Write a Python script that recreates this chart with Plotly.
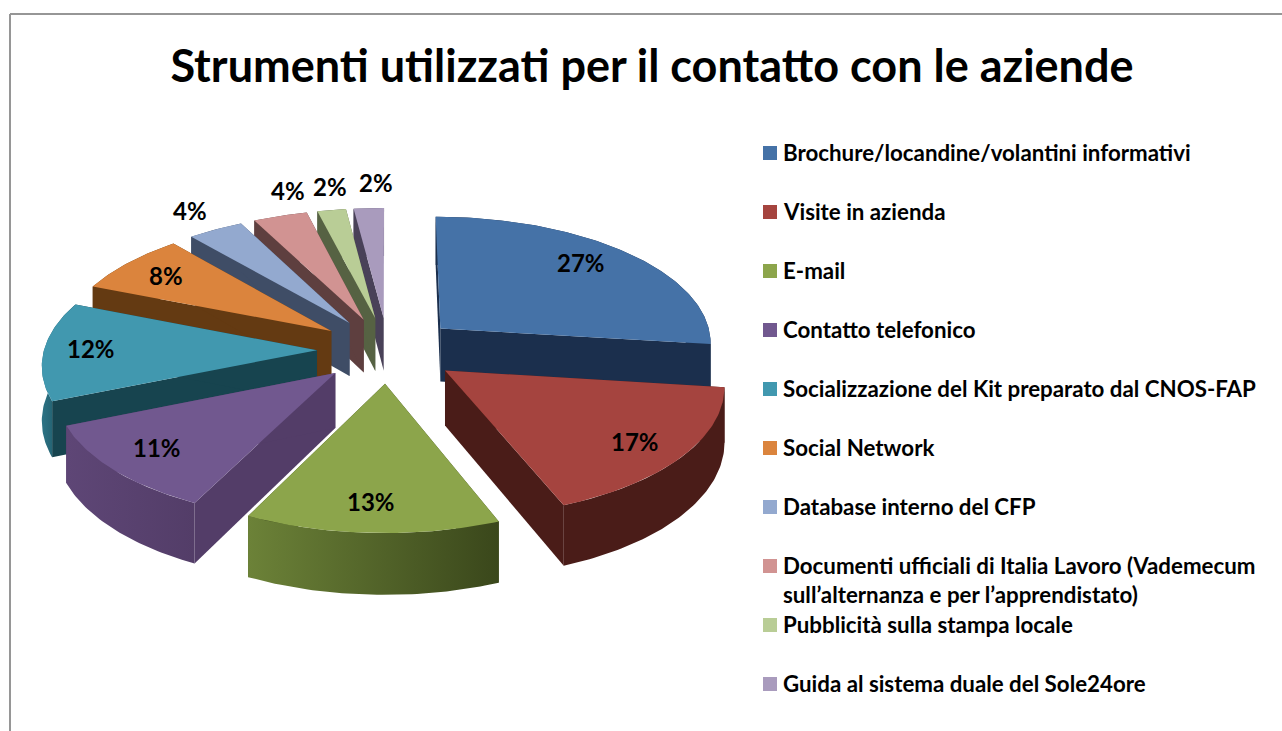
import numpy as np
import plotly.graph_objects as go

TITLE = "Strumenti utilizzati per il contatto con le aziende"
categories = [
    "Brochure/locandine/volantini informativi",
    "Visite in azienda",
    "E-mail",
    "Contatto telefonico",
    "Socializzazione del Kit preparato dal CNOS-FAP",
    "Social Network",
    "Database interno del CFP",
    "Documenti ufficiali di Italia Lavoro (Vademecum<br>sull’alternanza e per l’apprendistato)",
    "Pubblicità sulla stampa locale",
    "Guida al sistema duale del Sole24ore",
]
# shares; printed rounded, as in the labels
values = [27, 17, 13.3, 11.4, 12.4, 7.7, 3.7, 3.6, 1.9, 2.0]

top_colors = ["#4572A7", "#A5443F", "#8CA54B", "#71588F", "#4198AF",
              "#DB843D", "#93A9CF", "#D19392", "#B9CD96", "#A99BBD"]
wall_colors = [("#1B2F4D", "#1B2F4D"), ("#4A1C18", "#4A1C18"), ("#6C8238", "#3A471B"),
               ("#5E4676", "#533D68"), ("#2C7385", "#17444F"), ("#643A12", "#643A12"),
               ("#3F4D66", "#3F4D66"), ("#5E3F3F", "#5E3F3F"), ("#566243", "#566243"),
               ("#494158", "#494158")]
radial_wall_colors = ["#1B2F4D", "#4A1C18", "#3A471B", "#533D68", "#17444F",
                      "#643A12", "#3F4D66", "#5E3F3F", "#566243", "#494158"]
label_centers = [(581, 262), (635, 441), (371, 501), (157, 447), (91, 348),
                 (166, 275), (190, 210), (288, 190), (330, 186), (376, 182)]

# Pie projection (pixel-space axes)
CX, CY, RX, RY, PERSP, EXPLODE, DEPTH = 388, 350, 273, 127, 0.10, 0.26, 54
W, H = 1282, 731


def project(px, py, down=False):
    px, py = np.asarray(px, float), np.asarray(py, float)
    s = 1 / (1 + PERSP * py)
    return CX + RX * px * s, CY - RY * py * s + (DEPTH * s if down else 0)


def poly(x, y, fill, hover=None):
    if isinstance(fill, tuple):
        style = dict(fillgradient=dict(type="horizontal",
                                       colorscale=[[0, fill[0]], [1, fill[1]]]))
    else:
        style = dict(fillcolor=fill)
    return go.Scatter(x=list(x) + [x[0]], y=list(y) + [y[0]], mode="lines", fill="toself",
                      line=dict(width=0), name=hover or "",
                      hoverinfo="name" if hover else "skip", showlegend=False, **style)


total = sum(values)
edges = np.cumsum([0] + values) / total * 2 * np.pi
slices = []
for i, v in enumerate(values):
    a0, a1 = edges[i], edges[i + 1]
    m = (a0 + a1) / 2
    ex, ey = EXPLODE * np.sin(m), EXPLODE * np.cos(m)
    th = np.linspace(a0, a1, max(8, int(v * 4)))
    rim_px, rim_py = ex + np.sin(th), ey + np.cos(th)
    slices.append(dict(i=i, ex=ex, ey=ey, rim_px=rim_px, rim_py=rim_py,
                       order=-(ey + 0.6 * np.cos(m))))

traces = []
for sl in sorted(slices, key=lambda d: d["order"]):
    i = sl["i"]
    tx, ty = project(sl["rim_px"], sl["rim_py"])
    bx, by = project(sl["rim_px"], sl["rim_py"], True)
    ax, ay = project(sl["ex"], sl["ey"])
    dx, dy = project(sl["ex"], sl["ey"], True)
    # radial walls and outer rim, then the top face
    for j in (0, -1):
        traces.append(poly([float(ax), tx[j], bx[j], float(dx)],
                           [float(ay), ty[j], by[j], float(dy)], radial_wall_colors[i]))
    traces.append(poly(list(tx) + list(bx[::-1]), list(ty) + list(by[::-1]), wall_colors[i]))
    name = categories[i].replace("<br>", " ") + f": {round(values[i])}%"
    traces.append(poly([float(ax)] + list(tx), [float(ay)] + list(ty), top_colors[i], name))

fig = go.Figure(traces)

# legend swatches
LEG_Y0, LEG_STEP = 153, 59
leg_y = [LEG_Y0 + k * LEG_STEP for k in range(len(categories))]
fig.add_trace(go.Scatter(x=[770] * len(categories), y=leg_y, mode="markers",
                         marker=dict(symbol="square", size=14, color=top_colors),
                         hoverinfo="skip", showlegend=False))

FONT = "Lato"
ann = []
for k, (c, y) in enumerate(zip(categories, leg_y)):
    for n, part in enumerate(c.split("<br>")):
        ann.append(dict(x=781, y=y - 1 + n * 29, text=f"<b>{part}</b>", xanchor="left", yanchor="middle",
                        showarrow=False, font=dict(family=FONT, size=22.3, color="#000")))
for v, (x, y) in zip(values, label_centers):
    ann.append(dict(x=x, y=y, text=f"<b>{round(v)}%</b>", xanchor="center", yanchor="middle",
                    showarrow=False, font=dict(family=FONT, size=24, color="#000")))

fig.update_layout(
    width=W, height=H, margin=dict(l=0, r=0, t=0, b=0), autosize=False,
    paper_bgcolor="white", plot_bgcolor="white", showlegend=False,
    title=dict(text=f"<b>{TITLE}</b>", x=652 / W, xanchor="center", xref="paper",
               y=1 - 66 / H, yanchor="middle", yref="container",
               font=dict(family=FONT, size=45, color="#000")),
    xaxis=dict(range=[0, W], visible=False, fixedrange=True),
    yaxis=dict(range=[H, 0], visible=False, fixedrange=True),
    annotations=ann,
    shapes=[dict(type="line", x0=10, x1=10, y0=14, y1=H, line=dict(color="#969696", width=2), layer="below"),
            dict(type="line", x0=10, x1=W, y0=14, y1=14, line=dict(color="#969696", width=2), layer="below")],
)
fig.write_html("out.html", config=dict(displayModeBar=False),
               post_script="document.body.style.margin='0';document.documentElement.style.overflow='hidden';")
